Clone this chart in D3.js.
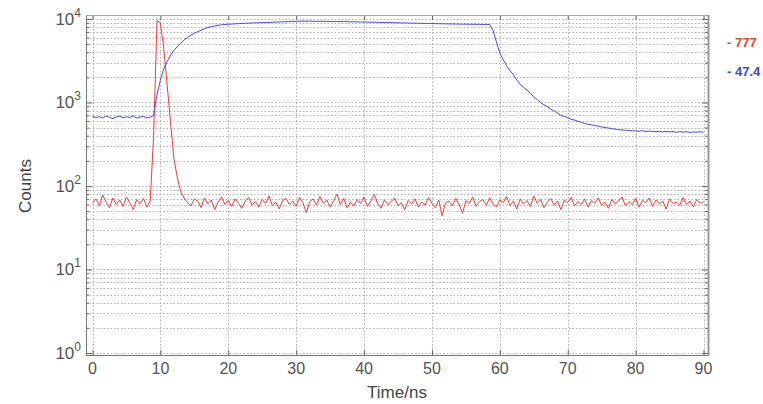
<!DOCTYPE html>
<html><head><meta charset="utf-8">
<script src="https://cdn.jsdelivr.net/npm/d3@7"></script>
<style>body{margin:0;background:#fff;overflow:hidden} svg{display:block}</style>
</head><body><svg id="c" width="763" height="404"></svg>
<script>
const times = [
 0,0.5,1,1.5,2,2.5,3,3.5,4,4.5,
 5,5.5,6,6.5,7,7.5,8,8.5,9,9.5,
 10,10.5,11,11.5,12,12.5,13,13.5,14,14.5,
 15,15.5,16,16.5,17,17.5,18,18.5,19,19.5,
 20,20.5,21,21.5,22,22.5,23,23.5,24,24.5,
 25,25.5,26,26.5,27,27.5,28,28.5,29,29.5,
 30,30.5,31,31.5,32,32.5,33,33.5,34,34.5,
 35,35.5,36,36.5,37,37.5,38,38.5,39,39.5,
 40,40.5,41,41.5,42,42.5,43,43.5,44,44.5,
 45,45.5,46,46.5,47,47.5,48,48.5,49,49.5,
 50,50.5,51,51.5,52,52.5,53,53.5,54,54.5,
 55,55.5,56,56.5,57,57.5,58,58.5,59,59.5,
 60,60.5,61,61.5,62,62.5,63,63.5,64,64.5,
 65,65.5,66,66.5,67,67.5,68,68.5,69,69.5,
 70,70.5,71,71.5,72,72.5,73,73.5,74,74.5,
 75,75.5,76,76.5,77,77.5,78,78.5,79,79.5,
 80,80.5,81,81.5,82,82.5,83,83.5,84,84.5,
 85,85.5,86,86.5,87,87.5,88,88.5,89,89.5,
 90];
const redCounts = [
 62,70,58,78,64,55,72,60,68,57,
 74,63,52,69,61,71,56,66,400,9600,
 9000,4400,1600,570,210,125,85,72,63,58,
 70,66,55,72,61,68,52,64,74,60,
 67,57,70,62,54,66,73,59,65,56,
 69,62,76,58,64,53,67,71,60,66,
 57,73,63,48,65,70,59,75,62,68,
 56,66,80,60,71,55,64,58,69,61,
 74,57,66,79,62,54,68,60,65,72,
 58,63,52,67,61,70,56,64,59,73,
 62,55,68,44,63,66,58,71,60,47,
 67,62,74,57,65,69,59,72,61,56,
 68,63,75,58,66,53,70,61,67,57,
 76,62,69,55,64,71,59,66,52,68,
 63,73,58,65,60,70,56,67,62,72,
 59,64,54,69,61,66,74,58,65,60,
 71,56,67,63,72,57,68,61,66,53,
 70,62,64,59,73,60,66,56,69,62,
 65];
const blueCounts = [
 680,660,675,650,690,665,640,670,685,655,
 675,660,690,650,670,680,655,665,700,1250,
 1850,2550,3100,3700,4200,4700,5150,5600,6000,6400,
 6750,7050,7350,7650,7900,8100,8250,8400,8500,8600,
 8650,8700,8750,8800,8850,8880,8920,8950,8980,9000,
 9050,9080,9100,9150,9180,9200,9250,9280,9300,9350,
 9380,9400,9420,9400,9420,9380,9400,9360,9380,9350,
 9330,9350,9300,9320,9280,9300,9260,9250,9230,9200,
 9220,9180,9160,9150,9120,9100,9080,9060,9050,9020,
 9000,8980,8960,8940,8920,8900,8880,8860,8850,8830,
 8820,8800,8780,8760,8750,8730,8720,8700,8690,8680,
 8660,8650,8640,8630,8620,8610,8600,8580,7300,5300,
 3900,3250,2750,2400,2150,1860,1650,1520,1410,1280,
 1170,1080,1000,940,890,830,790,750,700,680,
 655,630,615,595,580,560,550,540,530,520,
 510,500,495,485,480,472,470,465,462,458,
 458,452,460,448,455,450,446,452,444,450,
 445,448,440,447,442,446,438,444,441,445,
 442];
const xTicks = [0,10,20,30,40,50,60,70,80,90];
const yExponents = [0,1,2,3,4];
const legendLabels = ["- 777", "- 47.4"];
const xLabel = "Time/ns";
const yLabel = "Counts";

const svg = d3.select("#c");
const L = 86, R = 708, T = 15, B = 355;
const x = d3.scaleLinear().domain([-0.96, 90.66]).range([L, R]);
const y = d3.scaleLog().domain([0.946, 11160]).range([B, T]);

const majors = yExponents.map(e => Math.pow(10, e));
const minors = [];
yExponents.slice(0, -1).forEach(e => { for (let k = 2; k <= 9; k++) minors.push(k * Math.pow(10, e)); });

const grid = svg.append("g").attr("stroke", "#b0b0b0").attr("stroke-width", 1).attr("stroke-dasharray", "1.5,2");
grid.selectAll("line.xg").data(xTicks).join("line")
  .attr("x1", d => Math.round(x(d)) + 0.5).attr("x2", d => Math.round(x(d)) + 0.5)
  .attr("y1", T).attr("y2", B);
grid.selectAll("line.yg").data(majors.concat(minors)).join("line")
  .attr("x1", L).attr("x2", R)
  .attr("y1", d => Math.round(y(d)) + 0.5).attr("y2", d => Math.round(y(d)) + 0.5);

// Axes (ticks inside)
const axStyle = g => { g.select(".domain").remove(); g.selectAll("line").attr("stroke", "#666"); g.selectAll("text").remove(); };
svg.append("g").attr("transform", `translate(0,${B})`).call(d3.axisBottom(x).tickValues(xTicks).tickSize(-5)).call(axStyle);
svg.append("g").attr("transform", `translate(0,${T})`).call(d3.axisTop(x).tickValues(xTicks).tickSize(-5)).call(axStyle);
svg.append("g").attr("transform", `translate(${L},0)`).call(d3.axisLeft(y).tickValues(majors).tickSize(-6)).call(axStyle);
svg.append("g").attr("transform", `translate(${L},0)`).call(d3.axisLeft(y).tickValues(minors).tickSize(-3)).call(axStyle);
svg.append("g").attr("transform", `translate(${R},0)`).call(d3.axisRight(y).tickValues(majors).tickSize(-6)).call(axStyle);
svg.append("g").attr("transform", `translate(${R},0)`).call(d3.axisRight(y).tickValues(minors).tickSize(-3)).call(axStyle);

// Data lines
svg.append("clipPath").attr("id", "clip").append("rect").attr("x", L).attr("y", T).attr("width", R - L).attr("height", B - T);
const line = d3.line().x((d, i) => x(times[i])).y(d => y(d));
const n = Math.min(times.length, redCounts.length, blueCounts.length);
svg.append("path").datum(redCounts.slice(0, n)).attr("clip-path", "url(#clip)")
  .attr("fill", "none").attr("stroke", "#f23a3a").attr("stroke-width", 1).attr("stroke-linejoin", "round").attr("d", line);
svg.append("path").datum(blueCounts.slice(0, n)).attr("clip-path", "url(#clip)")
  .attr("fill", "none").attr("stroke", "#4848ee").attr("stroke-width", 1).attr("stroke-linejoin", "round").attr("d", line);

// Box
svg.append("line").attr("x1", L + 0.5).attr("x2", L + 0.5).attr("y1", T).attr("y2", B + 1).attr("stroke", "#777");
svg.append("line").attr("x1", L).attr("x2", R).attr("y1", B + 0.5).attr("y2", B + 0.5).attr("stroke", "#777");
svg.append("line").attr("x1", L).attr("x2", R).attr("y1", T + 0.5).attr("y2", T + 0.5).attr("stroke", "#aaa");
svg.append("line").attr("x1", R + 0.5).attr("x2", R + 0.5).attr("y1", T).attr("y2", B + 1).attr("stroke", "#999").attr("stroke-width", 2);

// Tick labels
const font = "Liberation Sans, Arial, sans-serif";
svg.append("g").selectAll("text").data(xTicks).join("text")
  .attr("x", d => x(d)).attr("y", 374).attr("text-anchor", "middle")
  .attr("font-family", font).attr("font-size", 16).attr("fill", "#555").text(d => d);
const yl = svg.append("g").selectAll("text").data(yExponents).join("text")
  .attr("x", 81).attr("y", d => y(Math.pow(10, d)) + 6).attr("text-anchor", "end")
  .attr("font-family", font).attr("font-size", 17).attr("fill", "#555");
yl.append("tspan").text("10");
yl.append("tspan").attr("dy", -8).attr("font-size", 12).text(d => d);

svg.append("text").attr("x", 397).attr("y", 398).attr("text-anchor", "middle")
  .attr("font-family", font).attr("font-size", 17).attr("fill", "#444").text(xLabel);
svg.append("text").attr("transform", "translate(31,186) rotate(-90)").attr("text-anchor", "middle")
  .attr("font-family", font).attr("font-size", 17).attr("fill", "#444").text(yLabel);

// Legend
const legColors = ["#e8432f", "#4545e0"];
svg.append("g").selectAll("text").data(legendLabels).join("text")
  .attr("x", 727).attr("y", (d, i) => 47 + i * 29)
  .attr("font-family", font).attr("font-size", 13).attr("font-weight", "bold")
  .attr("fill", (d, i) => legColors[i]).text(d => d);
</script></body></html>
